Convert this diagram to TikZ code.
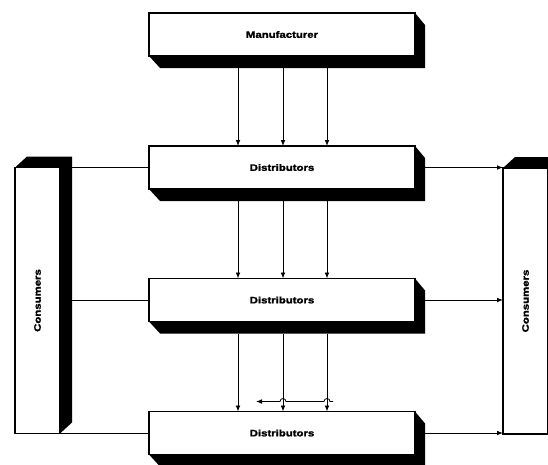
\documentclass[tikz,border=0pt]{standalone}
\usepackage{fontspec}
\setmainfont{Liberation Sans}[BoldFeatures={FakeBold=1.6}]
\usetikzlibrary{arrows.meta,backgrounds}
\newcommand\pxu{0.75pt}
\newcommand\wide[1]{\scalebox{1.22}[1]{#1}}
\begin{document}
\begin{tikzpicture}[x=0.75pt,y=-0.75pt,
  block/.style={draw=black,line width=1pt,fill=white,
    minimum width=266*\pxu,minimum height=43*\pxu,
    inner sep=0pt,outer sep=0pt,font=\fontsize{7}{8}\selectfont\bfseries},
  column/.style={draw=black,line width=1pt,fill=white,
    minimum width=45*\pxu,minimum height=266*\pxu,
    inner sep=0pt,outer sep=0pt,font=\fontsize{7}{8}\selectfont\bfseries},
  link/.style={line width=0.6pt},
  arr/.style={link,-{Latex[length=4.5pt,width=3.5pt]}},
  extrusion/.style={fill=black}]
\useasboundingbox (0,0) rectangle (548,464);

% front faces
\node[block]  (man) at (282,34.5)  {\wide{Manufacturer}};
\node[block]  (d1)  at (282,167.5) {\wide{Distributors}};
\node[block]  (d2)  at (282,300)   {\wide{Distributors}};
\node[block]  (d3)  at (282,433)   {\wide{Distributors}};
\node[column] (cL)  at (37.5,300.5) {\rotatebox{90}{\wide{Consumers}}};
\node[column] (cR)  at (525.5,301)  {\rotatebox{90}{\wide{Consumers}}};

% solid extrusions behind the faces
\begin{scope}[on background layer]
  \foreach \b in {man,d1,d2,d3}{
    \fill[extrusion] (\b.south west) -- ++(11,12)
      -- ([shift={(10,12)}]\b.south east)
      -- ([shift={(10,12)}]\b.north east) -- (\b.north east) -- cycle;
  }
  \foreach \b in {cL,cR}{
    \fill[extrusion] (\b.north west) -- ++(12,-11)
      -- ([shift={(12,-11)}]\b.north east)
      -- ([shift={(12,-11)}]\b.south east) -- (\b.south east) -- cycle;
  }
\end{scope}

% flows down the chain
\foreach \dx in {-44,1,45}{
  \draw[arr] ([shift={(\dx,12)}]man.south) -- ([xshift=\dx*\pxu]d1.north);
  \draw[arr] ([shift={(\dx,12)}]d1.south)  -- ([xshift=\dx*\pxu]d2.north);
  \draw[arr] ([shift={(\dx,12)}]d2.south)  -- ([xshift=\dx*\pxu]d3.north);
}

% sideways flow above the lowest level
\coordinate (hR) at ([shift={(51,-10)}]d3.north);
\coordinate (hL) at ([shift={(-26,-10)}]d3.north);
\draw[arr] (hR) -- ++(-3,0) arc[start angle=0,end angle=-180,radius=3]
  -- ++(-38,0) arc[start angle=0,end angle=-180,radius=3] -- (hL);

% links from consumers on the left
\draw[link] (d1.west) -- ([xshift=12*\pxu]d1.west -| cL.east);
\draw[link] (d2.west) -- ([xshift=12*\pxu]d2.west -| cL.east);
\draw[link] (d3.west) -- (d3.west -| cL.west);

% flows to consumers on the right
\draw[arr] ([xshift=10*\pxu]d1.east) -- (d1.east -| cR.west);
\draw[arr] ([xshift=10*\pxu]d2.east) -- (d2.east -| cR.west);
\draw[arr] ([xshift=10*\pxu]d3.east) -- (d3.east -| cR.west);
\end{tikzpicture}
\end{document}
